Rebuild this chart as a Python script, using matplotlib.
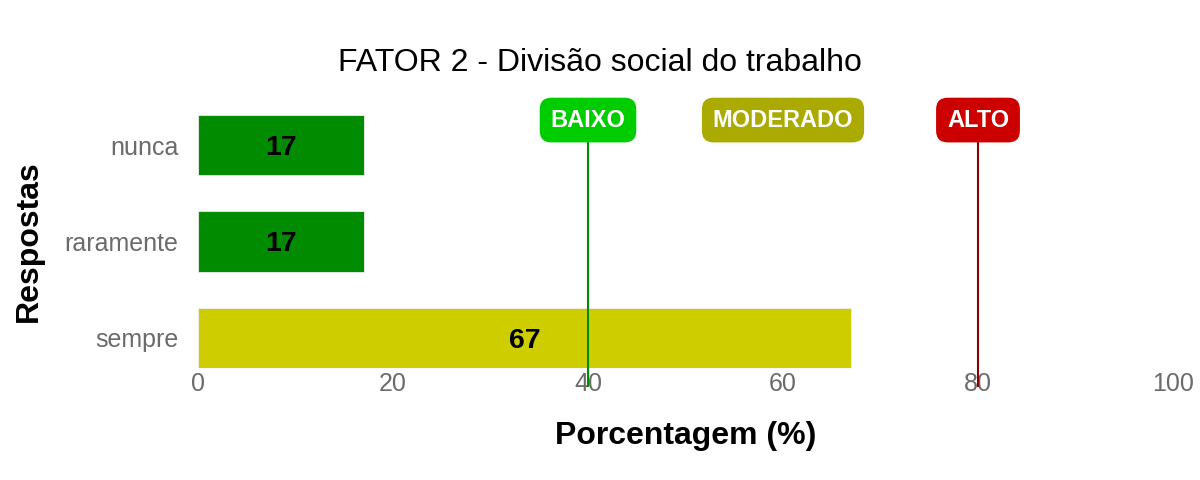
import matplotlib
matplotlib.use('Agg')
import matplotlib.pyplot as plt

plt.rcParams['font.family'] = ['Liberation Sans', 'DejaVu Sans']

# data
respostas = ["sempre", "raramente", "nunca"]
porcentagem = [67, 17, 17]
bar_colors = ["#CDCD00", "#008B00", "#008B00"]

niveis = ["BAIXO", "MODERADO", "ALTO"]
nivel_x = [40, 60, 80]
nivel_cores = ["#00CD00", "#AAAA00", "#CD0000"]
linhas_x = [40, 80]
linhas_cores = ["#008B00", "#8B0000"]

fig = plt.figure(figsize=(12, 4.8), dpi=100)
ax = fig.add_axes([198 / 1200, 112 / 480, 975 / 1200, 273 / 480])

ypos = list(range(1, len(respostas) + 1))
ax.barh(ypos, porcentagem, height=0.625, color=bar_colors,
        edgecolor="#eeeeee", linewidth=0.6, zorder=2)
for y, v in zip(ypos, porcentagem):
    ax.text(v / 2, y, str(v), ha="center", va="center_baseline",
            fontsize=20.5, fontweight="bold", color="black", zorder=3)

ax.set_xlim(0, 100)
ax.set_ylim(0.6875, 3.52)

label_y = 3.26
for xv, c in zip(linhas_x, linhas_cores):
    ax.plot([xv, xv], [0.5, 3.05], color=c, linewidth=1.5,
            clip_on=False, zorder=4)
for name, xv, c in zip(niveis, nivel_x, nivel_cores):
    ax.text(xv, label_y, name, ha="center", va="center", fontsize=17,
            fontweight="bold", color="white", zorder=5,
            bbox=dict(boxstyle="round,pad=0.46,rounding_size=0.5",
                      facecolor=c, edgecolor="none"))

ax.set_xticks([0, 20, 40, 60, 80, 100])
ax.set_yticks(ypos)
ax.set_yticklabels(respostas)
ax.tick_params(axis="both", length=0, labelsize=18, labelcolor="#6b6b6b")
ax.tick_params(axis="x", pad=3)
ax.tick_params(axis="y", pad=14)
for s in ax.spines.values():
    s.set_visible(False)

ax.set_xlabel("Porcentagem (%)", fontsize=23, fontweight="bold", labelpad=18)
ax.set_ylabel("Respostas", fontsize=23, fontweight="bold")
ax.yaxis.set_label_coords(-0.158, 0.465)
fig.suptitle("FATOR 2 - Divisão social do trabalho", fontsize=23,
             x=0.5, y=0.9)

fig.savefig("out.png", dpi=100)
